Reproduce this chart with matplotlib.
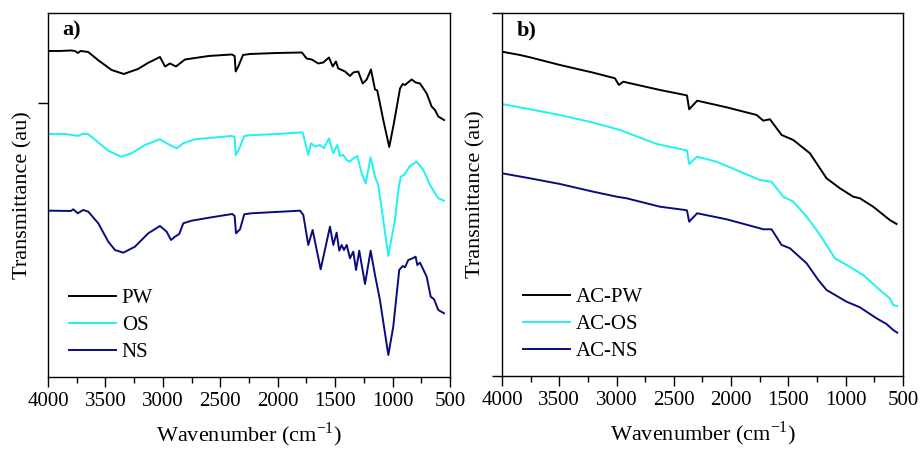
import numpy as np
import matplotlib
matplotlib.use("Agg")
import matplotlib.pyplot as plt
from matplotlib.ticker import MultipleLocator

plt.rcParams["font.family"] = ["Liberation Serif", "DejaVu Serif"]
plt.rcParams["mathtext.fontset"] = "custom"
plt.rcParams["mathtext.rm"] = "Liberation Serif"

# ── a) raw samples ────────────────────────────────────────────────────────
wn_pw = [4000, 3900, 3800, 3765, 3740, 3715, 3650, 3565, 3446, 3340, 3216, 3130,
         3025, 2981, 2938, 2886, 2807, 2600, 2400, 2375, 2366, 2343, 2302, 2240,
         2000, 1790, 1748, 1704, 1647, 1603, 1554, 1521, 1493, 1473, 1443, 1414,
         1371, 1342, 1299, 1260, 1225, 1188, 1153, 1133, 1081, 1029, 988, 935,
         912, 892, 834, 799, 761, 703, 660, 631, 602, 552]
t_pw = [326, 326, 326.5, 326, 324, 326, 325, 317, 307, 303, 308, 314,
        320, 310.5, 313.5, 310.5, 317.5, 321, 322.5, 321, 305.5, 310.5, 322, 323,
        324, 324.5, 318.5, 317.5, 313.5, 314.5, 319.5, 310.5, 315.5, 308.5, 307, 305.5,
        301, 304.5, 305.5, 293.5, 297.5, 307.5, 287.5, 286.5, 257, 230, 254, 288.5,
        293, 292, 297.5, 294.5, 293.5, 283.5, 270.5, 267, 260.5, 257]

wn_os = [4000, 3850, 3739, 3700, 3652, 3475, 3364, 3271, 3155, 3025, 2967, 2909,
         2880, 2822, 2720, 2400, 2375, 2366, 2337, 2291, 2241, 2000, 1783, 1734,
         1710, 1675, 1632, 1597, 1554, 1516, 1481, 1458, 1429, 1399, 1371, 1342,
         1307, 1269, 1234, 1191, 1153, 1125, 1081, 1037, 979, 950, 929, 901,
         848, 790, 732, 674, 631, 602, 552]
t_os = [243, 243, 241, 243, 243, 226.3, 220.3, 223.7, 232, 237.7, 233.7, 230.3,
        228.7, 233.7, 237.7, 241, 240, 222, 227.7, 241, 241.7, 243, 244.7, 222,
        233.7, 230.3, 232, 228.7, 238.7, 223.7, 232, 221, 222, 217, 215.3, 218.7,
        221, 203.7, 193.7, 219.7, 200.3, 192, 157, 121, 157, 187, 200.3, 202,
        211, 215.3, 207, 192, 183.7, 178.7, 176.3]

wn_ns = [4000, 3800, 3780, 3741, 3693, 3649, 3562, 3475, 3417, 3344, 3243, 3127,
         3025, 2967, 2929, 2894, 2857, 2822, 2749, 2575, 2395, 2375, 2363, 2328,
         2291, 2227, 1806, 1777, 1734, 1696, 1626, 1545, 1516, 1487, 1464, 1443,
         1423, 1399, 1371, 1342, 1318, 1290, 1240, 1191, 1153, 1110, 1037, 994,
         942, 912, 892, 863, 825, 799, 785, 761, 703, 668, 639, 602, 552]
t_ns = [166.3, 166, 167.7, 163.7, 167, 165.3, 153.7, 135.3, 127, 124.3, 130.3, 143.7,
        151, 145.3, 137, 140.3, 143, 153.7, 156.3, 159.7, 163, 161, 143.7, 147.7,
        162.7, 163.7, 166.3, 162, 132, 147, 107.7, 150.3, 132, 144.3, 126.3, 132,
        127, 132, 118.7, 125.3, 107, 126.3, 93, 126.3, 102, 77, 22, 50.3,
        107, 111, 109.7, 117, 118.7, 120.3, 112, 114.3, 100.3, 80.3, 77.7, 67, 63.7]

# ── b) activated carbons ─────────────────────────────────────────────────
wn_acpw = [4000, 3843, 3756, 3494, 3203, 3014, 2979, 2941, 2854, 2621, 2403, 2385,
           2366, 2296, 2040, 1777, 1719, 1661, 1559, 1457, 1312, 1167, 1050, 934,
           876, 760, 615, 556]
t_acpw = [324.3, 321, 318.7, 311, 303.3, 297.7, 291, 294.3, 292, 286, 281, 280.5,
          266.7, 275.3, 268.7, 261, 255.3, 256.7, 241, 236, 222.7, 197.7, 187.7, 179.3,
          177.7, 169.3, 156, 152]

wn_acos = [4000, 3756, 3494, 3203, 2970, 2650, 2403, 2385, 2366, 2296, 2127, 1749,
           1647, 1545, 1457, 1341, 1254, 1196, 1094, 992, 847, 702, 615, 585, 550]
t_acos = [272, 266.7, 261, 253.3, 246, 232, 226, 225.5, 212, 219.3, 214.3, 196,
          194.3, 179.3, 174.3, 159.3, 146, 136, 117.7, 111, 101, 86, 77.7, 71, 70]

wn_acns = [4000, 3756, 3494, 3203, 2999, 2912, 2621, 2403, 2385, 2366, 2296, 2040,
           1749, 1719, 1647, 1559, 1486, 1341, 1239, 1167, 992, 876, 731, 644, 585, 550]
t_acns = [202.7, 197.7, 192, 184.3, 179.3, 177.7, 169.3, 166, 165.5, 154.3, 162.7, 156.7,
          147.7, 146.7, 146.7, 131, 127.7, 112.7, 96, 86, 74.3, 68.7, 57.7, 52, 46, 43.3]

COLORS = ["black", "#1ef2f2", "#0b0b80"]

fig = plt.figure(figsize=(9.21, 4.49), dpi=100)
ax_a = fig.add_axes([0.0521, 0.1604, 0.4365, 0.8107])
ax_b = fig.add_axes([0.5450, 0.1626, 0.4354, 0.8085])

panels = [
    (ax_a, "a)", [(wn_pw, t_pw, "PW"), (wn_os, t_os, "OS"), (wn_ns, t_ns, "NS")], 364, [274]),
    (ax_b, "b)", [(wn_acpw, t_acpw, "AC-PW"), (wn_acos, t_acos, "AC-OS"),
                  (wn_acns, t_acns, "AC-NS")], 363, [0, 363]),
]

for ax, tag, series, ytop, yticks in panels:
    for (w, t, lbl), c in zip(series, COLORS):
        ax.plot(w, t, color=c, lw=1.4, label=lbl)
    ax.set_xlim(4000, 500)
    ax.set_ylim(0, ytop)
    ax.xaxis.set_major_locator(MultipleLocator(500))
    ax.xaxis.set_minor_locator(MultipleLocator(250))
    ax.set_yticks(yticks)
    ax.set_yticklabels([])
    ax.tick_params(direction="out", length=7, width=1, labelsize=15)
    ax.tick_params(which="minor", direction="out", length=4, width=1)
    for s in ax.spines.values():
        s.set_linewidth(1)
    ax.set_xlabel("Wavenumber (cm$^{\\mathrm{-1}}$)", fontsize=16, labelpad=7)
    ax.set_ylabel("Transmittance (au)", fontsize=16, labelpad=1)
    ax.text(0.036, 0.98, tag, transform=ax.transAxes, fontsize=16,
            fontweight="bold", va="top", ha="left")
    ax.legend(loc="lower left", bbox_to_anchor=(0.005, -0.01), frameon=False,
              fontsize=15, handlelength=2.25, handletextpad=0.3, labelspacing=0.35)

fig.savefig("out.png", dpi=100)
